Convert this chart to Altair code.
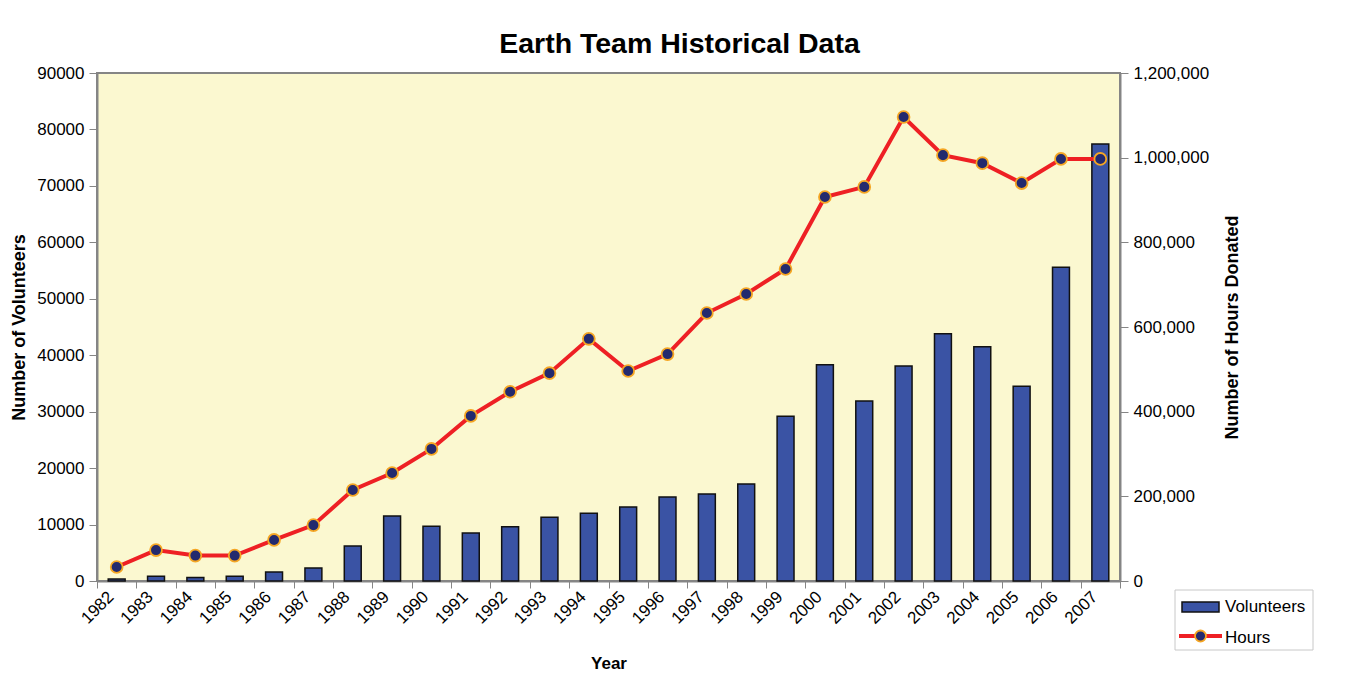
import altair as alt
import pandas as pd

years = [str(y) for y in range(1982, 2008)]
volunteers = [350, 850, 600, 850, 1600, 2300, 6200, 11500, 9700, 8500, 9600, 11300,
              12000, 13100, 14900, 15400, 17200, 29200, 38300, 31900, 38100, 43800,
              41500, 34500, 55600, 77400]
hours = [33000, 73000, 60000, 60000, 97000, 132000, 215000, 255000, 312000, 390000,
         447000, 491000, 572000, 496000, 536000, 633000, 678000, 737000, 907000,
         931000, 1096000, 1006000, 987000, 940000, 997000, 997000]

df = pd.DataFrame({"Year": years, "Volunteers": volunteers, "Hours": hours})
one = pd.DataFrame({"k": [0]})

FONT = "Liberation Sans"
W, H = 1023, 508

xenc = alt.X("Year:O", sort=years,
             scale=alt.Scale(type="band", paddingInner=0, paddingOuter=0),
             axis=alt.Axis(title="Year", labelAngle=-45, labelAlign="right",
                           labelBaseline="middle", labelPadding=6, labelOffset=-6,
                           tickBand="extent",
                           tickSize=7, titleX=W / 2, titleY=82, titleBaseline="middle",
                           titleFontSize=17))

bars = alt.Chart(df).mark_bar(width=alt.RelativeBandSize(0.43), color="#3A53A4",
                              stroke="#111111", strokeWidth=1.5).encode(
    x=xenc,
    y=alt.Y("Volunteers:Q", scale=alt.Scale(domain=[0, 90000], nice=False),
            axis=alt.Axis(title="Number of Volunteers", values=list(range(0, 90001, 10000)),
                          format="d", tickSize=8, labelPadding=5,
                          titleX=-78, titleY=H / 2, titleBaseline="middle",
                          titleAngle=270))
)

hscale = alt.Scale(domain=[0, 1200000], nice=False)

line = alt.Chart(df).mark_line(color="#EE2024", strokeWidth=4).encode(
    x=xenc,
    y=alt.Y("Hours:Q", scale=hscale,
            axis=alt.Axis(orient="right", title="Number of Hours Donated",
                          values=list(range(0, 1200001, 200000)), format=",d",
                          tickSize=8, labelPadding=5,
                          titleX=112, titleY=H / 2, titleAngle=270,
                          titleBaseline="middle"))
)

pts = alt.Chart(df).mark_point(filled=True, size=140, fill="#232A6E", stroke="#F5A623",
                               strokeWidth=1.8, opacity=1).encode(
    x=xenc,
    y=alt.Y("Hours:Q", scale=hscale, axis=None)
)

# legend (drawn by hand)
leg_box = alt.Chart(one).mark_rect(fill="white", stroke="#C8C8C8", strokeWidth=1).encode(
    x=alt.value(1078), x2=alt.value(1216), y=alt.value(517), y2=alt.value(577))
leg_bar = alt.Chart(one).mark_rect(fill="#3A53A4", stroke="#111111", strokeWidth=1.5).encode(
    x=alt.value(1085), x2=alt.value(1122), y=alt.value(529), y2=alt.value(539))
leg_line = alt.Chart(one).mark_rule(color="#EE2024", strokeWidth=4).encode(
    x=alt.value(1082), x2=alt.value(1125), y=alt.value(563))
leg_pt = alt.Chart(one).mark_point(filled=True, size=120, fill="#232A6E", stroke="#F5A623",
                                   strokeWidth=1.8, opacity=1).encode(
    x=alt.value(1103.5), y=alt.value(563))
leg_t1 = alt.Chart(one).mark_text(text="Volunteers", align="left", baseline="middle",
                                  fontSize=17, font=FONT, color="black").encode(
    x=alt.value(1128), y=alt.value(534))
leg_t2 = alt.Chart(one).mark_text(text="Hours", align="left", baseline="middle",
                                  fontSize=17, font=FONT, color="black").encode(
    x=alt.value(1128), y=alt.value(565))

chart = alt.layer(bars, line, pts, leg_box, leg_bar, leg_line, leg_pt, leg_t1, leg_t2).resolve_scale(
    y="independent"
).properties(
    width=W, height=H,
    title=alt.Title("Earth Team Historical Data", fontSize=28.5, fontWeight="bold",
                    font=FONT, color="black", anchor="middle", dx=71, dy=31, offset=14,
                    baseline="alphabetic"),
    autosize=alt.AutoSizeParams(type="none"),
    padding={"left": 89, "top": 65, "right": 228, "bottom": 104},
    background="white",
).configure_view(
    fill="#FBF8D0", stroke="#858585", strokeWidth=2
).configure_axis(
    labelFont=FONT, titleFont=FONT, labelFontSize=17, titleFontSize=18,
    labelColor="black", titleColor="black", titleFontWeight="bold",
    domainColor="#858585", domainWidth=2, tickColor="#858585", tickWidth=1,
    grid=False
)

chart.save("out.html", embed_options={"renderer": "svg", "actions": False})
